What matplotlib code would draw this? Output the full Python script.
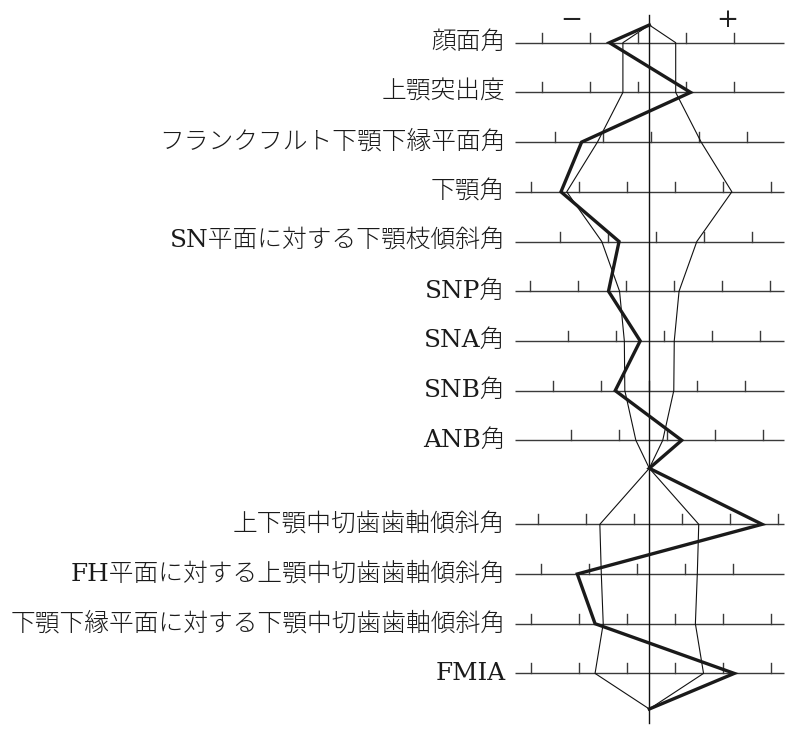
import matplotlib
matplotlib.use('Agg')
import matplotlib.pyplot as plt

plt.rcParams['font.family'] = ['DejaVu Serif', 'Noto Sans CJK JP']

labels_upper = ['顔面角', '上顎突出度', 'フランクフルト下顎下縁平面角', '下顎角',
                'SN平面に対する下顎枝傾斜角', 'SNP角', 'SNA角', 'SNB角', 'ANB角']
labels_lower = ['上下顎中切歯歯軸傾斜角', 'FH平面に対する上顎中切歯歯軸傾斜角',
                '下顎下縁平面に対する下顎中切歯歯軸傾斜角', 'FMIA']

# patient values, in scale steps from the mean
patient_upper = [-0.83, 0.86, -1.41, -1.84, -0.63, -0.85, -0.19, -0.71, 0.675]
patient_lower = [2.35, -1.50, -1.13, 1.77]

# one standard deviation, same units
sd_upper = [0.55, 0.55, 1.08, 1.72, 0.99, 0.62, 0.52, 0.51, 0.28]
sd_lower = [1.03, 1.00, 0.96, 1.13]

# where the scale ticks fall relative to the mean (fraction of a step)
tick_phase_upper = [0.77, 0.77, 0.03, 0.54, 0.14, 0.51, 0.31, 0.0, 0.37]
tick_phase_lower = [0.68, 0.75, 0.53, 0.53]

W, H = 797, 737
px = 48.0          # pixels per scale step
cx = 649.3         # pixel column of the mean line

fig = plt.figure(figsize=(W / 100, H / 100), dpi=100)
ax = fig.add_axes([0, 0, 1, 1])
ax.set_xlim(-cx / px, (W - cx) / px)
ax.set_ylim(H, 0)
ax.axis('off')

# row layout (pixel rows)
y_upper = [42.7 + 49.7 * i for i in range(len(labels_upper))]
y_lower = [524.3 + 49.7 * i for i in range(len(labels_lower))]
y_top, y_mid, y_bottom = 25, 468.3, 709

labels = labels_upper + labels_lower
rows_y = y_upper + y_lower
phases = tick_phase_upper + tick_phase_lower

for lab, y, ph in zip(labels, rows_y, phases):
    ax.plot([-2.80, 2.81], [y, y], color='#3a3a3a', lw=1.0, solid_capstyle='butt')
    for k in range(-4, 5):
        t = ph + k
        if -2.55 <= t <= 2.7:
            ax.plot([t, t], [y, y - 10], color='#3a3a3a', lw=1.0)
    ax.text(-3.0, y, lab, ha='right', va='center', fontsize=17.8,
            fontweight='light', color='#1a1a1a')

# mean line
ax.plot([0, 0], [15, 723], color='#111111', lw=1.0)

ax.text(-1.62, 19, '−', ha='center', va='center', fontsize=19, color='#222222')
ax.text(1.63, 19, '+', ha='center', va='center', fontsize=19, color='#222222')

# +/- 1 SD outline
for sign in (-1, 1):
    xs = [0] + [sign * s for s in sd_upper] + [0] + [sign * s for s in sd_lower] + [0]
    ys = [y_top] + y_upper + [y_mid] + y_lower + [y_bottom]
    ax.plot(xs, ys, color='#111111', lw=0.8)

# patient
xs = [0] + patient_upper + [0] + patient_lower + [0]
ys = [y_top] + y_upper + [y_mid] + y_lower + [y_bottom]
ax.plot(xs, ys, color='#1a1a1a', lw=2.4, solid_joinstyle='miter')

fig.savefig('out.png', dpi=100)
